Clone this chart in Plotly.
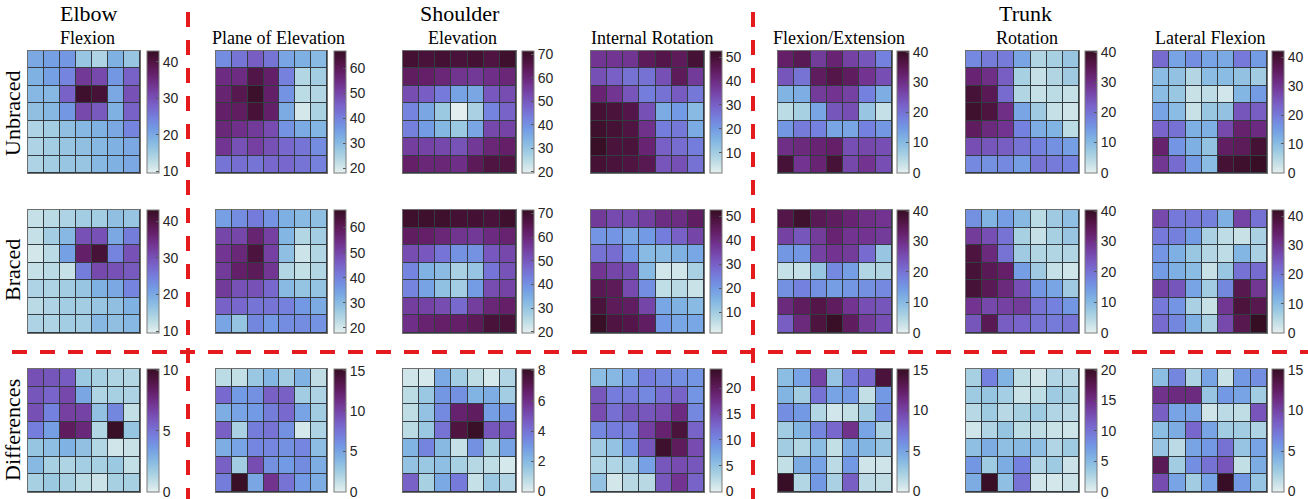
import plotly.graph_objects as go

W, H = 1308, 499

# 7x7 grids, top row first
elbow_unbraced = [
    [20, 21, 22, 16, 14, 19, 16],
    [19, 21, 24, 33, 31, 22, 28],
    [18, 18, 28, 42, 41, 20, 30],
    [17, 18, 22, 31, 29, 19, 28],
    [14, 15, 17, 18, 19, 20, 24],
    [14, 15, 16, 17, 18, 19, 20],
    [14, 15, 16, 16, 18, 19, 20],
]
poe_unbraced = [
    [38, 42, 46, 42, 34, 32, 30],
    [55, 55, 62, 58, 40, 24, 26],
    [57, 61, 66, 58, 37, 23, 24],
    [58, 59, 64, 58, 33, 20, 25],
    [56, 54, 52, 49, 37, 33, 31],
    [53, 48, 51, 48, 44, 42, 38],
    [42, 43, 42, 44, 44, 42, 40],
]
elev_unbraced = [
    [69, 68, 69, 68, 69, 67, 70],
    [63, 62, 60, 57, 56, 58, 60],
    [52, 49, 44, 37, 36, 50, 52],
    [42, 36, 29, 20, 27, 42, 48],
    [43, 38, 33, 29, 36, 53, 54],
    [55, 54, 53, 51, 56, 60, 62],
    [62, 60, 60, 58, 64, 67, 67],
]
ir_unbraced = [
    [38, 38, 38, 45, 47, 45, 50],
    [33, 30, 27, 27, 33, 45, 37],
    [42, 38, 32, 25, 27, 31, 26],
    [50, 49, 47, 33, 17, 20, 14],
    [51, 50, 48, 39, 25, 26, 17],
    [52, 49, 49, 42, 30, 28, 25],
    [50, 49, 48, 46, 32, 33, 27],
]
fe_unbraced = [
    [33, 35, 28, 32, 27, 24, 18],
    [24, 20, 34, 36, 34, 29, 25],
    [11, 12, 28, 29, 27, 18, 12],
    [4, 6, 13, 24, 25, 8, 3],
    [15, 19, 18, 13, 13, 18, 15],
    [30, 31, 32, 33, 25, 26, 25],
    [38, 29, 32, 38, 26, 29, 25],
]
rot_unbraced = [
    [17, 19, 19, 13, 5, 6, 8],
    [32, 30, 23, 6, 3, 5, 7],
    [38, 35, 21, 5, 3, 4, 3],
    [39, 37, 30, 13, 7, 3, 2],
    [34, 31, 29, 18, 12, 11, 4],
    [25, 24, 23, 20, 18, 16, 14],
    [17, 16, 17, 14, 20, 19, 18],
]
lf_unbraced = [
    [22, 14, 17, 14, 13, 20, 15],
    [10, 9, 5, 10, 10, 9, 7],
    [10, 8, 3, 4, 2, 11, 15],
    [14, 10, 3, 8, 9, 25, 24],
    [23, 21, 12, 12, 27, 34, 32],
    [34, 16, 12, 9, 35, 36, 40],
    [30, 22, 15, 10, 40, 41, 42],
]

elbow_braced = [
    [12, 13, 14, 15, 15, 17, 16],
    [12, 15, 18, 30, 30, 20, 25],
    [11, 13, 21, 37, 41, 24, 30],
    [12, 13, 12, 25, 31, 30, 29],
    [14, 14, 15, 16, 19, 20, 24],
    [13, 14, 15, 15, 16, 17, 19],
    [14, 14, 15, 15, 18, 17, 18],
]
poe_braced = [
    [35, 38, 41, 37, 32, 30, 29],
    [50, 50, 57, 51, 31, 24, 26],
    [53, 56, 63, 51, 29, 21, 24],
    [52, 58, 60, 53, 24, 22, 24],
    [52, 48, 48, 44, 30, 28, 28],
    [45, 44, 42, 42, 40, 36, 33],
    [34, 28, 39, 36, 38, 38, 37],
]
elev_braced = [
    [70, 70, 70, 69, 69, 68, 70],
    [63, 62, 60, 57, 56, 59, 61],
    [52, 50, 45, 40, 40, 50, 53],
    [42, 34, 32, 27, 30, 45, 51],
    [42, 37, 31, 28, 38, 52, 54],
    [55, 54, 52, 47, 55, 60, 62],
    [58, 61, 62, 62, 64, 68, 68],
]
ir_braced = [
    [37, 34, 34, 36, 40, 40, 44],
    [21, 21, 18, 20, 25, 30, 35],
    [27, 28, 20, 14, 14, 16, 18],
    [38, 35, 33, 14, 4, 4, 9],
    [46, 45, 34, 22, 6, 7, 5],
    [49, 45, 44, 35, 18, 16, 14],
    [52, 48, 47, 44, 20, 18, 18],
]
fe_braced = [
    [36, 39, 35, 34, 32, 30, 29],
    [27, 24, 28, 32, 29, 29, 28],
    [15, 15, 27, 29, 28, 21, 8],
    [3, 3, 8, 17, 14, 5, 5],
    [16, 18, 16, 14, 15, 16, 17],
    [31, 34, 36, 34, 29, 25, 24],
    [23, 31, 37, 40, 34, 28, 25],
]
rot_braced = [
    [16, 11, 14, 10, 4, 7, 9],
    [28, 25, 20, 6, 3, 6, 8],
    [37, 31, 20, 7, 5, 5, 5],
    [38, 35, 33, 14, 7, 3, 2],
    [38, 35, 31, 25, 15, 13, 7],
    [29, 26, 27, 28, 20, 18, 15],
    [24, 35, 23, 22, 20, 19, 20],
]
lf_braced = [
    [27, 20, 20, 19, 12, 28, 21],
    [20, 19, 15, 6, 4, 3, 6],
    [16, 12, 8, 5, 4, 11, 6],
    [15, 12, 10, 3, 8, 21, 22],
    [28, 25, 14, 7, 18, 37, 30],
    [20, 16, 6, 3, 30, 39, 37],
    [22, 18, 12, 6, 27, 37, 43],
]

elbow_diff = [
    [6.2, 6.0, 5.8, 1.8, 1.5, 1.3, 1.2],
    [6.0, 5.5, 6.5, 3.2, 1.3, 1.5, 1.4],
    [6.2, 4.5, 6.8, 6.7, 2.2, 4.3, 0.8],
    [4.6, 3.5, 8.5, 7.8, 1.2, 10.0, 2.0],
    [2.0, 2.3, 2.8, 2.2, 1.2, 0.5, 0.7],
    [2.5, 1.5, 1.3, 1.6, 1.5, 1.8, 0.8],
    [1.5, 1.8, 1.5, 1.0, 0.6, 1.5, 1.5],
]
poe_diff = [
    [1.5, 1.2, 2.8, 4.0, 2.5, 4.2, 1.3],
    [8.0, 5.5, 6.0, 8.5, 8.5, 2.5, 2.0],
    [4.5, 5.0, 5.5, 7.0, 8.0, 5.0, 2.5],
    [8.5, 2.2, 7.0, 7.5, 6.0, 0.6, 2.0],
    [4.5, 5.0, 6.5, 6.5, 6.0, 6.5, 3.5],
    [8.5, 2.5, 9.5, 6.0, 5.5, 6.2, 4.5],
    [7.0, 15.0, 4.8, 11.0, 7.5, 5.5, 4.5],
]
elev_diff = [
    [0.4, 0.3, 2.5, 1.3, 0.7, 0.3, 1.0],
    [0.8, 1.5, 3.0, 3.2, 2.2, 2.4, 1.3],
    [0.7, 1.7, 3.4, 6.5, 6.8, 2.8, 3.0],
    [0.8, 1.5, 4.0, 7.4, 8.0, 4.8, 4.6],
    [2.2, 3.5, 2.0, 0.6, 3.2, 1.2, 2.7],
    [1.7, 1.5, 1.8, 1.2, 0.9, 0.7, 0.3],
    [4.5, 1.2, 2.5, 3.8, 0.6, 1.5, 1.0],
]
ir_diff = [
    [5.5, 6, 8, 11, 10, 9.5, 9],
    [14, 11, 11, 10, 12, 13, 9],
    [15, 12, 14, 14, 15, 18, 10],
    [10, 11, 11, 16, 19, 22, 13],
    [4, 5, 9, 14, 23, 20, 15],
    [3, 3, 4, 8, 14, 15, 14],
    [5, 1, 2.5, 2.5, 14, 17, 13],
]
fe_diff = [
    [3.5, 5.0, 10.0, 3.0, 7.0, 8.0, 14.0],
    [4.0, 2.5, 7.5, 5.0, 5.5, 1.2, 5.5],
    [6.0, 5.5, 1.8, 0.7, 1.2, 2.5, 6.0],
    [2.5, 4.0, 6.5, 8.0, 11.0, 5.0, 2.2],
    [2.5, 1.8, 3.5, 1.2, 4.5, 4.0, 3.0],
    [1.2, 4.5, 5.0, 1.5, 5.5, 0.8, 0.8],
    [15.0, 1.8, 5.5, 2.2, 8.5, 1.5, 1.3],
]
rot_diff = [
    [3.0, 9.0, 5.5, 1.8, 0.9, 2.5, 2.2],
    [3.5, 4.0, 3.2, 1.3, 1.8, 3.5, 3.0],
    [2.2, 3.5, 2.2, 3.0, 3.5, 2.5, 2.2],
    [1.0, 2.5, 4.0, 2.0, 1.8, 1.3, 1.1],
    [4.5, 6.0, 4.5, 5.0, 4.5, 2.5, 3.5],
    [7.5, 3.5, 6.0, 9.0, 2.5, 3.5, 1.2],
    [6.0, 20.0, 4.5, 10.0, 1.0, 0.8, 1.2],
]
lf_diff = [
    [3.5, 6.5, 2.0, 5.0, 1.0, 5.5, 6.0],
    [11.0, 11.5, 11.5, 3.0, 5.5, 5.0, 2.5],
    [8.5, 5.0, 5.0, 0.8, 1.5, 1.3, 9.0],
    [3.5, 4.5, 8.0, 5.0, 2.5, 2.5, 2.0],
    [3.0, 1.5, 5.0, 5.5, 7.5, 3.0, 5.0],
    [13.0, 2.5, 6.0, 7.5, 9.0, 1.2, 4.5],
    [9.5, 5.0, 2.5, 5.0, 15.0, 5.5, 3.0],
]

# colour limits and colourbar ticks per column
limits_top = [(9.5, 43), (18, 67), (19.5, 71.5), (1.5, 52.6), (-0.1, 40.4), (-0.1, 40.4), (-0.1, 42.2)]
ticks_top = [[10, 20, 30, 40], [20, 30, 40, 50, 60], [20, 30, 40, 50, 60, 70],
             [10, 20, 30, 40, 50], [0, 10, 20, 30, 40], [0, 10, 20, 30, 40], [0, 10, 20, 30, 40]]
limits_diff = [(-0.03, 10.1), (-0.05, 15.2), (-0.03, 8.1), (-0.08, 23.7), (-0.05, 15.1), (-0.06, 20.2), (-0.05, 15.1)]
ticks_diff = [[0, 5, 10], [0, 5, 10, 15], [0, 2, 4, 6, 8], [0, 5, 10, 15, 20],
              [0, 5, 10, 15], [0, 5, 10, 15, 20], [0, 5, 10, 15]]

rows = [
    [elbow_unbraced, poe_unbraced, elev_unbraced, ir_unbraced, fe_unbraced, rot_unbraced, lf_unbraced],
    [elbow_braced, poe_braced, elev_braced, ir_braced, fe_braced, rot_braced, lf_braced],
    [elbow_diff, poe_diff, elev_diff, ir_diff, fe_diff, rot_diff, lf_diff],
]
limits = [limits_top, limits_top, limits_diff]
ticks = [ticks_top, ticks_top, ticks_diff]

subtitles = ["Flexion", "Plane of Elevation", "Elevation", "Internal Rotation",
             "Flexion/Extension", "Rotation", "Lateral Flexion"]
groups = ["Elbow", "Shoulder", "Trunk"]
row_names = ["Unbraced", "Braced", "Differences"]

# pixel layout
col_l = [28, 216, 403, 591, 778, 966, 1153]
col_r = [140, 327, 516, 704, 892, 1079, 1267]
cb_l = [147, 334, 522, 710, 897, 1085, 1272]
row_t = [51, 210, 369]
row_b = [173, 333, 492]

serif = "Liberation Serif, Times New Roman, serif"
sans = "Liberation Sans, Arial, sans-serif"

fig = go.Figure()
layout = {}
n = 0
for r in range(3):
    for c in range(7):
        n += 1
        sfx = "" if n == 1 else str(n)
        zmin, zmax = limits[r][c]
        fig.add_trace(go.Heatmap(
            z=rows[r][c], x=list(range(7)), y=list(range(7)),
            colorscale="dense", zmin=zmin, zmax=zmax, xgap=1, ygap=1,
            xaxis="x" + sfx, yaxis="y" + sfx,
            colorbar=dict(
                x=cb_l[c] / W, xanchor="left", xpad=0, ypad=0,
                y=1 - (row_t[r] + row_b[r]) / 2 / H, yanchor="middle",
                len=(row_b[r] - row_t[r]) / H, lenmode="fraction",
                thickness=12, outlinecolor="#7a7a7a", outlinewidth=1,
                tickvals=ticks[r][c], ticks="inside", ticklen=3, tickcolor="#555",
                ticklabeloverflow="allow",
                tickfont=dict(family=sans, size=14, color="#262626"),
            ),
        ))
        ax = dict(showticklabels=False, showgrid=False, zeroline=False, ticks="",
                  showline=True, mirror=True, linecolor="#6e6e6e", linewidth=1)
        layout["xaxis" + sfx] = dict(ax, domain=[col_l[c] / W, col_r[c] / W],
                                     range=[-0.5, 6.5], anchor="y" + sfx)
        layout["yaxis" + sfx] = dict(ax, domain=[1 - row_b[r] / H, 1 - row_t[r] / H],
                                     range=[6.5, -0.5], anchor="x" + sfx)

ann = []
group_x = [89, 460, 1025]
for g, gx in zip(groups, group_x):
    ann.append(dict(text=g, x=gx / W, y=1 - 13 / H, font=dict(family=serif, size=22, color="black")))
sub_x = [88, 278, 462, 652, 839, 1027, 1210]
for s, sx in zip(subtitles, sub_x):
    ann.append(dict(text=s, x=sx / W, y=1 - 38 / H, font=dict(family=serif, size=18, color="black")))
row_y = [113, 270, 430]
for name, ry in zip(row_names, row_y):
    ann.append(dict(text=name, x=12 / W, y=1 - ry / H, textangle=-90,
                    font=dict(family=serif, size=22, color="black")))
for a in ann:
    a.update(xref="paper", yref="paper", showarrow=False, xanchor="center", yanchor="middle")

red = dict(color="#e41a1c", width=4, dash="15px,13px")
shapes = [
    dict(type="line", xref="paper", yref="paper", x0=188 / W, x1=188 / W, y0=1 - 12 / H, y1=0, line=red),
    dict(type="line", xref="paper", yref="paper", x0=753 / W, x1=753 / W, y0=1 - 12 / H, y1=0, line=red),
    dict(type="line", xref="paper", yref="paper", x0=12 / W, x1=1, y0=1 - 352 / H, y1=1 - 352 / H, line=red),
]

fig.update_layout(
    width=W, height=H, margin=dict(l=0, r=0, t=0, b=0),
    paper_bgcolor="white", plot_bgcolor="#343c42",
    annotations=ann, shapes=shapes, **layout,
)
# drop the default page margin so the figure sits at the window's corner
fig.write_html("out.html", config={"displayModeBar": False},
               post_script="document.body.style.margin='0';document.body.style.overflow='hidden';")
